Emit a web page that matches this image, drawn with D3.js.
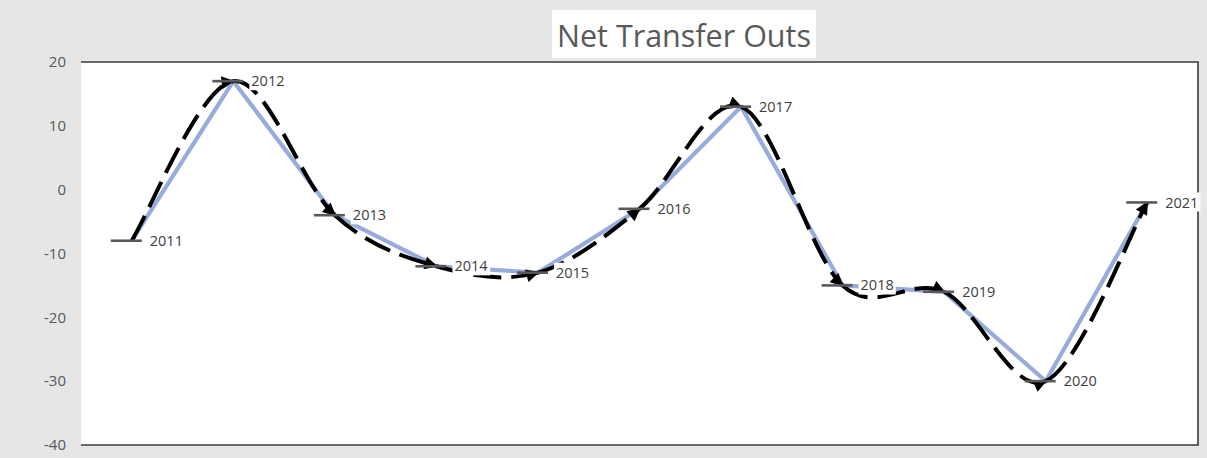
<!DOCTYPE html>
<html>
<head>
<meta charset="utf-8">
<script src="https://cdn.jsdelivr.net/npm/d3@7"></script>
<style>
  html, body { margin: 0; padding: 0; background: #e6e6e6; }
  svg { display: block; }
  text { font-family: "Open Sans", "Noto Sans", sans-serif; }
</style>
</head>
<body>
<svg id="chart" width="1207" height="458"></svg>
<script>
const title = "Net Transfer Outs";
const years = ["2011","2012","2013","2014","2015","2016","2017","2018","2019","2020","2021"];
const values = [-8, 17, -4, -12, -13, -3, 13, -15, -16, -30, -2];
const yTicks = [20, 10, 0, -10, -20, -30, -40];

const W = 1207, H = 458;
const plot = { left: 81, right: 1198, top: 62, bottom: 445 };

const svg = d3.select("#chart");
svg.append("rect").attr("width", W).attr("height", H).attr("fill", "#e6e6e6");
svg.append("rect")
  .attr("x", plot.left).attr("y", plot.top)
  .attr("width", plot.right - plot.left).attr("height", plot.bottom - plot.top)
  .attr("fill", "#ffffff");

const x = d3.scalePoint().domain(years).range([plot.left, plot.right]).padding(0.5);
const y = d3.scaleLinear().domain([-40, 20]).range([plot.bottom, plot.top]);

// Y axis labels
const yAxis = d3.axisLeft(y).tickValues(yTicks).tickSize(0).tickPadding(15)
  .tickFormat(d => String(d));
const gy = svg.append("g").attr("transform", `translate(${plot.left},0)`).call(yAxis);
gy.select(".domain").remove();
gy.selectAll("text")
  .attr("fill", "#595959")
  .style("font-size", "15px");

// Frame lines (top, right, bottom)
const frame = svg.append("g").attr("stroke", "#3a3a3a").attr("stroke-width", 1.6).attr("fill", "none");
frame.append("line").attr("x1", plot.left).attr("x2", plot.right + 0.8).attr("y1", plot.top).attr("y2", plot.top);
frame.append("line").attr("x1", plot.right).attr("x2", plot.right).attr("y1", plot.top).attr("y2", plot.bottom);
frame.append("line").attr("x1", plot.left).attr("x2", plot.right + 0.8).attr("y1", plot.bottom).attr("y2", plot.bottom);

const pts = years.map((yr, i) => [x(yr), y(values[i])]);

// Blue straight line
svg.append("path")
  .datum(pts)
  .attr("d", d3.line())
  .attr("fill", "none")
  .attr("stroke", "#98acdb")
  .attr("stroke-width", 4.2)
  .attr("stroke-linejoin", "round");

// Arrow marker
const defs = svg.append("defs");
defs.append("marker")
  .attr("id", "arrow")
  .attr("viewBox", "0 0 10 10")
  .attr("refX", 9).attr("refY", 5)
  .attr("markerWidth", 16).attr("markerHeight", 13)
  .attr("markerUnits", "userSpaceOnUse")
  .attr("orient", "auto")
  .append("path").attr("d", "M0,0 L10,5 L0,10 z").attr("fill", "#000");

// Black dashed smoothed segments with arrow at each point
const n = pts.length;
const segs = [];
for (let i = 0; i < n - 1; i++) {
  const p0 = pts[Math.max(i - 1, 0)], p1 = pts[i], p2 = pts[i + 1], p3 = pts[Math.min(i + 2, n - 1)];
  const c1 = [p1[0] + (p2[0] - p0[0]) / 6, p1[1] + (p2[1] - p0[1]) / 6];
  const c2 = [p2[0] - (p3[0] - p1[0]) / 6, p2[1] - (p3[1] - p1[1]) / 6];
  segs.push(`M${p1[0]},${p1[1]}C${c1[0]},${c1[1]} ${c2[0]},${c2[1]} ${p2[0]},${p2[1]}`);
}
svg.append("g").selectAll("path").data(segs).join("path")
  .attr("d", d => d)
  .attr("fill", "none")
  .attr("stroke", "#000")
  .attr("stroke-width", 4)
  .attr("stroke-dasharray", "28,10")
  .attr("marker-end", "url(#arrow)");

// Dash markers
svg.append("g").selectAll("line").data(pts).join("line")
  .attr("x1", d => d[0] - 21).attr("x2", d => d[0] + 10)
  .attr("y1", d => d[1]).attr("y2", d => d[1])
  .attr("stroke", "#595959").attr("stroke-width", 2.6);

// Data labels with white boxes
const lg = svg.append("g");
years.forEach((yr, i) => {
  const g = lg.append("g");
  const t = g.append("text")
    .attr("x", pts[i][0] + 18).attr("y", pts[i][1])
    .attr("dy", "0.35em")
    .attr("fill", "#404040")
    .style("font-size", "14.5px")
    .text(yr);
  const bb = t.node().getBBox();
  g.insert("rect", "text")
    .attr("x", bb.x - 2).attr("y", bb.y)
    .attr("width", bb.width + 4).attr("height", bb.height)
    .attr("fill", "#fff");
});

// Title
const tg = svg.append("g");
tg.append("rect").attr("x", 552).attr("y", 10).attr("width", 264).attr("height", 48).attr("fill", "#fff");
tg.append("text")
  .attr("x", 684).attr("y", 47)
  .attr("text-anchor", "middle")
  .attr("fill", "#595959")
  .style("font-size", "30.5px")
  .text(title);
</script>
</body>
</html>
